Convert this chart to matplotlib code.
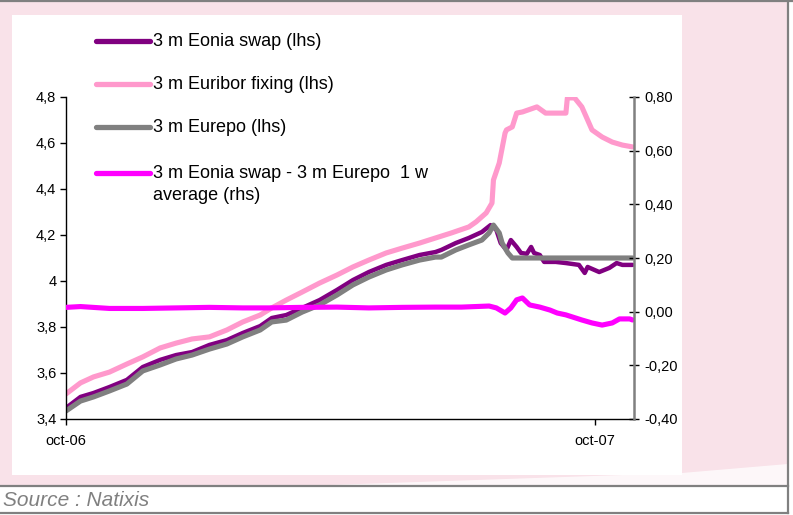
#!/usr/bin/env python3

import matplotlib
matplotlib.use('Agg')
import matplotlib.pyplot as plt
import matplotlib.dates as mdates
from matplotlib.lines import Line2D
from matplotlib.patches import Rectangle, Polygon
from matplotlib.ticker import FixedLocator, FixedFormatter
import pandas as pd

W, H = 793, 515

# 3 m Eonia swap (lhs)
eonia_dates = ['2006-10-01', '2006-10-11', '2006-10-20', '2006-10-31', '2006-11-12',
               '2006-11-23', '2006-12-05', '2006-12-16', '2006-12-27', '2007-01-08',
               '2007-01-20', '2007-01-31', '2007-02-12', '2007-02-20', '2007-03-02',
               '2007-03-13', '2007-03-25', '2007-04-06', '2007-04-17', '2007-04-28',
               '2007-05-10', '2007-05-21', '2007-06-02', '2007-06-13', '2007-06-17',
               '2007-06-27', '2007-07-06', '2007-07-15', '2007-07-21', '2007-07-25',
               '2007-07-28', '2007-08-01', '2007-08-04', '2007-08-08', '2007-08-11',
               '2007-08-15', '2007-08-18', '2007-08-20', '2007-08-24', '2007-08-27',
               '2007-09-04', '2007-09-11', '2007-09-20', '2007-09-24', '2007-09-26',
               '2007-10-04', '2007-10-11', '2007-10-16', '2007-10-20', '2007-10-27']
eonia = [3.448, 3.496, 3.513, 3.539, 3.570, 3.626, 3.657, 3.678, 3.691, 3.722,
         3.743, 3.774, 3.804, 3.839, 3.852, 3.883, 3.917, 3.961, 4.004, 4.039,
         4.070, 4.091, 4.113, 4.126, 4.135, 4.165, 4.187, 4.213, 4.243, 4.222,
         4.165, 4.135, 4.178, 4.148, 4.122, 4.118, 4.148, 4.122, 4.113, 4.083,
         4.083, 4.078, 4.070, 4.035, 4.061, 4.039, 4.057, 4.078, 4.070, 4.070]

# 3 m Euribor fixing (lhs)
euribor_dates = ['2006-10-01', '2006-10-11', '2006-10-20', '2006-10-31', '2006-11-12',
                 '2006-11-23', '2006-12-05', '2006-12-16', '2006-12-27', '2007-01-08',
                 '2007-01-20', '2007-01-31', '2007-02-12', '2007-02-20', '2007-03-02',
                 '2007-03-13', '2007-03-25', '2007-04-06', '2007-04-17', '2007-04-28',
                 '2007-05-10', '2007-05-21', '2007-06-02', '2007-06-13', '2007-06-24',
                 '2007-07-06', '2007-07-11', '2007-07-18', '2007-07-22', '2007-07-23',
                 '2007-07-27', '2007-07-31', '2007-08-01', '2007-08-05', '2007-08-08',
                 '2007-08-12', '2007-08-22', '2007-08-28', '2007-09-04', '2007-09-11',
                 '2007-09-12', '2007-09-17', '2007-09-22', '2007-09-26', '2007-09-29',
                 '2007-10-06', '2007-10-13', '2007-10-20', '2007-10-27']
euribor = [3.509, 3.557, 3.583, 3.604, 3.639, 3.670, 3.709, 3.730, 3.748, 3.757,
           3.787, 3.822, 3.852, 3.883, 3.917, 3.952, 3.991, 4.026, 4.061, 4.091,
           4.122, 4.143, 4.165, 4.187, 4.209, 4.235, 4.257, 4.296, 4.339, 4.439,
           4.513, 4.643, 4.657, 4.670, 4.730, 4.735, 4.757, 4.730, 4.730, 4.730,
           4.796, 4.796, 4.757, 4.700, 4.657, 4.626, 4.604, 4.591, 4.583]

# 3 m Eurepo (lhs)
eurepo_dates = ['2006-10-01', '2006-10-11', '2006-10-20', '2006-10-31', '2006-11-12',
                '2006-11-23', '2006-12-05', '2006-12-16', '2006-12-27', '2007-01-08',
                '2007-01-20', '2007-01-31', '2007-02-12', '2007-02-20', '2007-03-02',
                '2007-03-13', '2007-03-25', '2007-04-06', '2007-04-17', '2007-04-28',
                '2007-05-10', '2007-05-21', '2007-06-02', '2007-06-13', '2007-06-17',
                '2007-06-27', '2007-07-06', '2007-07-15', '2007-07-20', '2007-07-23',
                '2007-07-27', '2007-07-29', '2007-08-02', '2007-08-05', '2007-10-27']
eurepo = [3.435, 3.478, 3.496, 3.522, 3.552, 3.609, 3.635, 3.661, 3.678, 3.704,
          3.726, 3.757, 3.787, 3.822, 3.830, 3.865, 3.896, 3.939, 3.983, 4.017,
          4.048, 4.070, 4.091, 4.104, 4.104, 4.135, 4.157, 4.178, 4.209, 4.243,
          4.209, 4.165, 4.122, 4.100, 4.100]

# 3 m Eonia swap - 3 m Eurepo, 1 w average (rhs)
spread_dates = ['2006-10-01', '2006-10-11', '2006-10-31', '2006-11-23', '2006-12-16',
                '2007-01-08', '2007-01-31', '2007-02-18', '2007-03-13', '2007-04-06',
                '2007-04-28', '2007-05-21', '2007-06-13', '2007-07-01', '2007-07-20',
                '2007-07-25', '2007-07-31', '2007-08-04', '2007-08-08', '2007-08-12',
                '2007-08-17', '2007-08-24', '2007-08-31', '2007-09-05', '2007-09-11',
                '2007-09-22', '2007-09-29', '2007-10-06', '2007-10-13', '2007-10-18',
                '2007-10-25', '2007-10-27']
spread = [0.016, 0.019, 0.012, 0.012, 0.014, 0.016, 0.014, 0.014, 0.016, 0.017,
          0.014, 0.016, 0.017, 0.017, 0.021, 0.014, -0.005, 0.014, 0.044, 0.051,
          0.025, 0.017, 0.006, -0.005, -0.012, -0.031, -0.042, -0.050, -0.042, -0.027,
          -0.027, -0.031]

lhs_ticks = [3.4, 3.6, 3.8, 4.0, 4.2, 4.4, 4.6, 4.8]
lhs_labels = ['3,4', '3,6', '3,8', '4', '4,2', '4,4', '4,6', '4,8']
rhs_ticks = [-0.4, -0.2, 0.0, 0.2, 0.4, 0.6, 0.8]
rhs_labels = ['-0,40', '-0,20', '0,00', '0,20', '0,40', '0,60', '0,80']
x_ticks = ['2006-10-01', '2007-10-01']
x_labels = ['oct-06', 'oct-07']

PURPLE = '#800080'
PINK = '#FF99CC'
GREY = '#808080'
MAGENTA = '#FF00FF'
BG_PINK = '#F9E2E9'


def fx(x):
    return x / W


def fy(y):
    return 1 - y / H


def hline(fig, x0, x1, y, color=GREY, lw=1.6):
    fig.add_artist(Line2D([fx(x0), fx(x1)], [fy(y), fy(y)],
                          transform=fig.transFigure, color=color, lw=lw))


def main():
    plt.rcParams['font.family'] = ['Liberation Sans', 'DejaVu Sans']
    fig = plt.figure(figsize=(W / 100, H / 100), dpi=100)
    fig.patch.set_facecolor('white')

    # frame backgrounds
    fig.add_artist(Rectangle((0, fy(485)), fx(788), fy(2) - fy(485),
                             transform=fig.transFigure, color=BG_PINK, lw=0, zorder=0))
    fig.add_artist(Polygon([(fx(330), fy(485)), (fx(682), fy(473)), (fx(788), fy(464)),
                            (fx(788), fy(485))], closed=True,
                           transform=fig.transFigure, color='white', alpha=0.75,
                           lw=0, zorder=0.5))
    fig.add_artist(Rectangle((fx(12), fy(475)), fx(682) - fx(12), fy(15) - fy(475),
                             transform=fig.transFigure, color='white', lw=0, zorder=1))
    hline(fig, 0, 793, 1)
    hline(fig, 0, 788, 485.5)
    hline(fig, 0, 788, 512.5)
    fig.add_artist(Line2D([fx(788), fx(788)], [fy(0), fy(513)],
                          transform=fig.transFigure, color=GREY, lw=1.6))
    fig.text(fx(3), fy(501), 'Source : Natixis', style='italic', color=GREY,
             fontsize=15, va='center', ha='left')

    ax = fig.add_axes([fx(66), fy(419), fx(634) - fx(66), fy(97) - fy(419)])
    ax.set_facecolor('none')
    ax.set_zorder(2)

    ax.plot(pd.to_datetime(eonia_dates), eonia, color=PURPLE, lw=3.2,
            solid_joinstyle='round', solid_capstyle='round')
    ax.plot(pd.to_datetime(euribor_dates), euribor, color=PINK, lw=3.7,
            solid_joinstyle='round', solid_capstyle='round')
    ax.plot(pd.to_datetime(eurepo_dates), eurepo, color=GREY, lw=3.7,
            solid_joinstyle='round', solid_capstyle='round')

    ax.set_xlim(pd.Timestamp('2006-10-01'), pd.Timestamp('2007-10-28'))
    ax.set_ylim(3.4, 4.8)
    ax.yaxis.set_major_locator(FixedLocator(lhs_ticks))
    ax.yaxis.set_major_formatter(FixedFormatter(lhs_labels))
    ax.xaxis.set_major_locator(FixedLocator(mdates.date2num(pd.to_datetime(x_ticks))))
    ax.xaxis.set_major_formatter(FixedFormatter(x_labels))
    ax.tick_params(axis='y', direction='out', length=4, width=1, labelsize=10.5, pad=3)
    ax.tick_params(axis='x', direction='out', length=4, width=1, labelsize=10.5, pad=7)
    for side in ('top', 'right'):
        ax.spines[side].set_visible(False)
    ax.spines['left'].set_linewidth(1)
    ax.spines['bottom'].set_linewidth(1)

    ax2 = ax.twinx()
    ax2.plot(pd.to_datetime(spread_dates), spread, color=MAGENTA, lw=3.7,
             solid_joinstyle='round', solid_capstyle='round')
    ax2.set_ylim(-0.4, 0.8)
    ax2.yaxis.set_major_locator(FixedLocator(rhs_ticks))
    ax2.yaxis.set_major_formatter(FixedFormatter(rhs_labels))
    ax2.tick_params(axis='y', direction='inout', length=7, width=1, labelsize=10.5, pad=4)
    for side in ('top', 'left', 'bottom'):
        ax2.spines[side].set_visible(False)
    ax2.spines['right'].set_color(GREY)
    ax2.spines['right'].set_linewidth(1.8)

    # legend drawn by hand so the two-line entry keeps its key on the first line
    entries = [
        (PURPLE, '3 m Eonia swap (lhs)', 41),
        (PINK, '3 m Euribor fixing (lhs)', 84),
        (GREY, '3 m Eurepo (lhs)', 127),
        (MAGENTA, '3 m Eonia swap - 3 m Eurepo  1 w\naverage (rhs)', 173),
    ]
    for color, label, y in entries:
        fig.add_artist(Line2D([fx(96), fx(150)], [fy(y), fy(y)], transform=fig.transFigure,
                              color=color, lw=3.8, solid_capstyle='round', zorder=3))
        fig.text(fx(153), fy(y - 8), label, fontsize=13, ha='left', va='top',
                 linespacing=1.4, zorder=3)

    fig.savefig('out.png', dpi=100)
    plt.close(fig)


if __name__ == '__main__':
    main()
